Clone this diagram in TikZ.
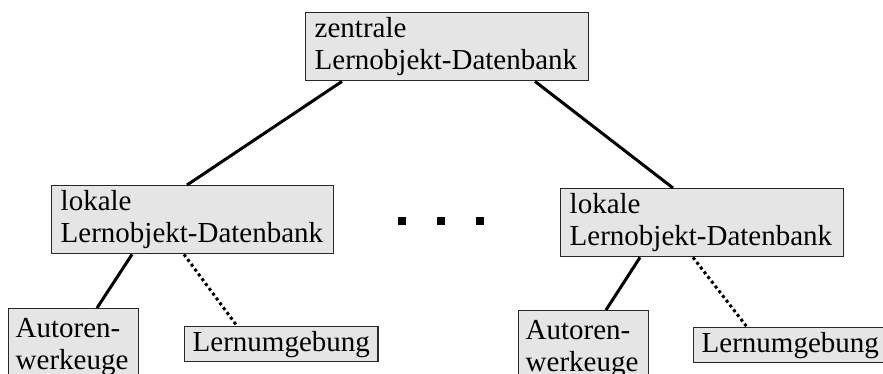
\documentclass[tikz,border=0pt]{standalone}
\usepackage{fontspec}
\setmainfont{Liberation Serif}
\definecolor{boxgray}{RGB}{229,229,229}
\definecolor{boxline}{RGB}{40,40,40}
\tikzset{
  dbbox/.style={draw=boxline, fill=boxgray, line width=1.4pt, anchor=north west,
    inner xsep=9pt, inner ysep=0pt, align=left,
    font=\fontsize{29}{32}\selectfont},
  solidlink/.style={line width=3pt, black},
  dotlink/.style={line width=3pt, black, dash pattern=on 3pt off 3pt},
  dotsq/.style={fill=black, minimum size=8pt, inner sep=0pt}
}
\begin{document}
\begin{tikzpicture}[x=1pt,y=-1pt]
\useasboundingbox (0,0) rectangle (883,374);
\clip (0,0) rectangle (883,374);
% boxes
\node[dbbox, minimum width=283pt, minimum height=68pt, text width=265pt] (top) at (305,12) {zentrale\\Lernobjekt-Datenbank};
\node[dbbox, minimum width=282pt, minimum height=68pt, text width=264pt] (lokL) at (51,185) {lokale\\Lernobjekt-Datenbank};
\node[dbbox, minimum width=283pt, minimum height=68pt, text width=265pt] (lokR) at (560,188) {lokale\\Lernobjekt-Datenbank};
\node[dbbox, inner xsep=7pt, minimum width=130pt, minimum height=76pt, text width=116pt] (autL) at (8,308) {Autoren-\\werkeuge};
\node[dbbox, inner xsep=7pt, minimum width=130pt, minimum height=76pt, text width=116pt] (autR) at (518,310) {Autoren-\\werkeuge};
\node[dbbox, inner xsep=8pt, minimum height=35pt] (lernL) at (184,326) {Lernumgebung};
\node[dbbox, inner xsep=8pt, minimum height=35pt] (lernR) at (693,327) {Lernumgebung};
% dots
\node[dotsq] (d1) at (402,221) {};
\node[dotsq] (d2) at (441,221) {};
\node[dotsq] (d3) at (480,221) {};
% connectors
\draw[solidlink] ([xshift=37pt]top.south west) -- ([xshift=136pt]lokL.north west);
\draw[solidlink] ([xshift=230pt]top.south west) -- ([xshift=113pt]lokR.north west);
\draw[solidlink] ([xshift=81pt]lokL.south west) -- ([xshift=89pt]autL.north west);
\draw[dotlink] ([xshift=133pt]lokL.south west) -- ([xshift=53pt]lernL.north west);
\draw[solidlink] ([xshift=80pt]lokR.south west) -- ([xshift=88pt]autR.north west);
\draw[dotlink] ([xshift=133pt]lokR.south west) -- ([xshift=54pt]lernR.north west);
\end{tikzpicture}
\end{document}
